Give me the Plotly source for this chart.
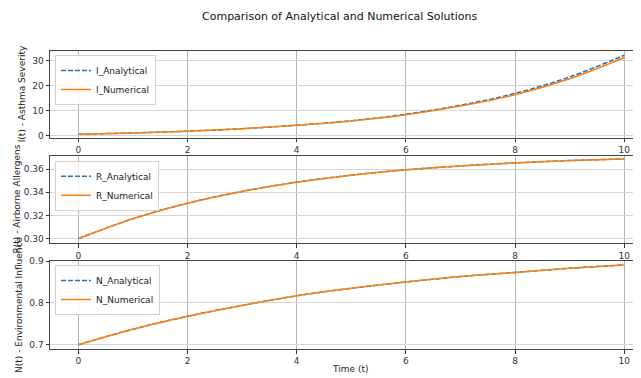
import plotly.graph_objects as go

t = [0, 1, 2, 3, 4, 5, 6, 7, 8, 9, 10]
I_analytical = [0.6, 1.1, 1.8, 2.8, 4.2, 6.0, 8.6, 12.2, 16.9, 23.5, 32.2]
I_numerical = [0.6, 1.1, 1.8, 2.8, 4.2, 5.9, 8.4, 11.9, 16.4, 22.8, 31.3]
R_analytical = [0.300, 0.3172, 0.3306, 0.3408, 0.3487, 0.3548, 0.3594, 0.3628, 0.3654, 0.3674, 0.3688]
R_numerical = [0.300, 0.3172, 0.3306, 0.3408, 0.3487, 0.3548, 0.3594, 0.3628, 0.3654, 0.3674, 0.3688]
N_analytical = [0.700, 0.737, 0.768, 0.794, 0.817, 0.835, 0.850, 0.863, 0.873, 0.883, 0.891]
N_numerical = [0.700, 0.737, 0.768, 0.794, 0.817, 0.835, 0.850, 0.863, 0.873, 0.883, 0.891]

x_ticks = [0, 2, 4, 6, 8, 10]
I_ticks = [0, 10, 20, 30]
R_ticks = [0.30, 0.32, 0.34, 0.36]
N_ticks = [0.7, 0.8, 0.9]

BLUE = "#1f77b4"
ORANGE = "#ff7f0e"
FONT = "DejaVu Sans"
OFF = 8  # page body margin
W, H = 641 - OFF, 378 - OFF

fig = go.Figure()

panels = [
    ("I", I_analytical, I_numerical, "", "legend"),
    ("R", R_analytical, R_numerical, "2", "legend2"),
    ("N", N_analytical, N_numerical, "3", "legend3"),
]
for name, ana, num, sfx, leg in panels:
    fig.add_trace(go.Scatter(x=t, y=ana, mode="lines", name=f"{name}_Analytical",
                             line=dict(color=BLUE, width=1.5, dash="5px,2px", shape="spline"),
                             xaxis="x" + sfx, yaxis="y" + sfx, legend=leg))
    fig.add_trace(go.Scatter(x=t, y=num, mode="lines", name=f"{name}_Numerical",
                             line=dict(color=ORANGE, width=1.5, shape="spline"),
                             xaxis="x" + sfx, yaxis="y" + sfx, legend=leg))


def px(x):
    return (x - OFF) / W


def py(y):
    return 1 - (y - OFF) / H


common_x = dict(range=[-0.518, 10.306], tickvals=x_ticks, ticks="outside", ticklen=3.5,
                tickcolor="#333", tickwidth=0.8, showline=True, mirror=True, linecolor="#444",
                linewidth=1, showgrid=True, gridcolor="#b4b4b4", gridwidth=0.8, zeroline=False,
                automargin=False,
                tickfont=dict(family=FONT, size=9, color="#333"), domain=[px(50), 1])
common_y = dict(ticks="outside", ticklen=3.5, tickcolor="#333", tickwidth=0.8, showline=True,
                mirror=True, linecolor="#444", linewidth=1, showgrid=True, gridcolor="#d6d6d6",
                gridwidth=1.2, zeroline=False, automargin=False,
                tickfont=dict(family=FONT, size=9, color="#333"))

fig.update_layout(
    width=W, height=H, margin=dict(l=0, r=0, t=0, b=0, autoexpand=False),
    plot_bgcolor="white", paper_bgcolor="white",
    xaxis=dict(common_x, anchor="y"),
    xaxis2=dict(common_x, anchor="y2"),
    xaxis3=dict(common_x, anchor="y3"),
    yaxis=dict(common_y, anchor="x", domain=[py(137.7), py(51)], range=[-0.8, 33.88],
               tickvals=I_ticks),
    yaxis2=dict(common_y, anchor="x2", domain=[py(243.3), py(155.7)], range=[0.296, 0.3716],
                tickvals=R_ticks, tickformat=".2f"),
    yaxis3=dict(common_y, anchor="x3", domain=[py(349), py(261)], range=[0.6898, 0.9003],
                tickvals=N_ticks, tickformat=".1f"),
    showlegend=True,
)

leg_common = dict(xanchor="left", yanchor="top", bgcolor="rgba(255,255,255,0.85)",
                  bordercolor="#d0d0d0", borderwidth=1, font=dict(family=FONT, size=9, color="#222"),
                  tracegroupgap=0, itemwidth=30)
fig.update_layout(
    legend=dict(leg_common, x=px(55), y=py(55)),
    legend2=dict(leg_common, x=px(55), y=py(160.7)),
    legend3=dict(leg_common, x=px(55), y=py(265)),
)

annots = [
    dict(text="Comparison of Analytical and Numerical Solutions", x=px(340), y=py(16),
         font=dict(family=FONT, size=11, color="#111"), textangle=0),
    dict(text="Time (t)", x=px(350), y=py(369), font=dict(family=FONT, size=9, color="#222"),
         textangle=0),
    dict(text="I(t) - Asthma Severity", x=px(22), y=py(94.3),
         font=dict(family=FONT, size=9, color="#222"), textangle=-90),
    dict(text="R(t) - Airborne Allergens", x=px(16), y=py(199.5),
         font=dict(family=FONT, size=9, color="#222"), textangle=-90),
    dict(text="N(t) - Environmental Influence", x=px(19), y=py(305),
         font=dict(family=FONT, size=9, color="#222"), textangle=-90),
]
for a in annots:
    fig.add_annotation(xref="paper", yref="paper", showarrow=False, xanchor="center",
                       yanchor="middle", **a)

fig.write_html("out.html")
